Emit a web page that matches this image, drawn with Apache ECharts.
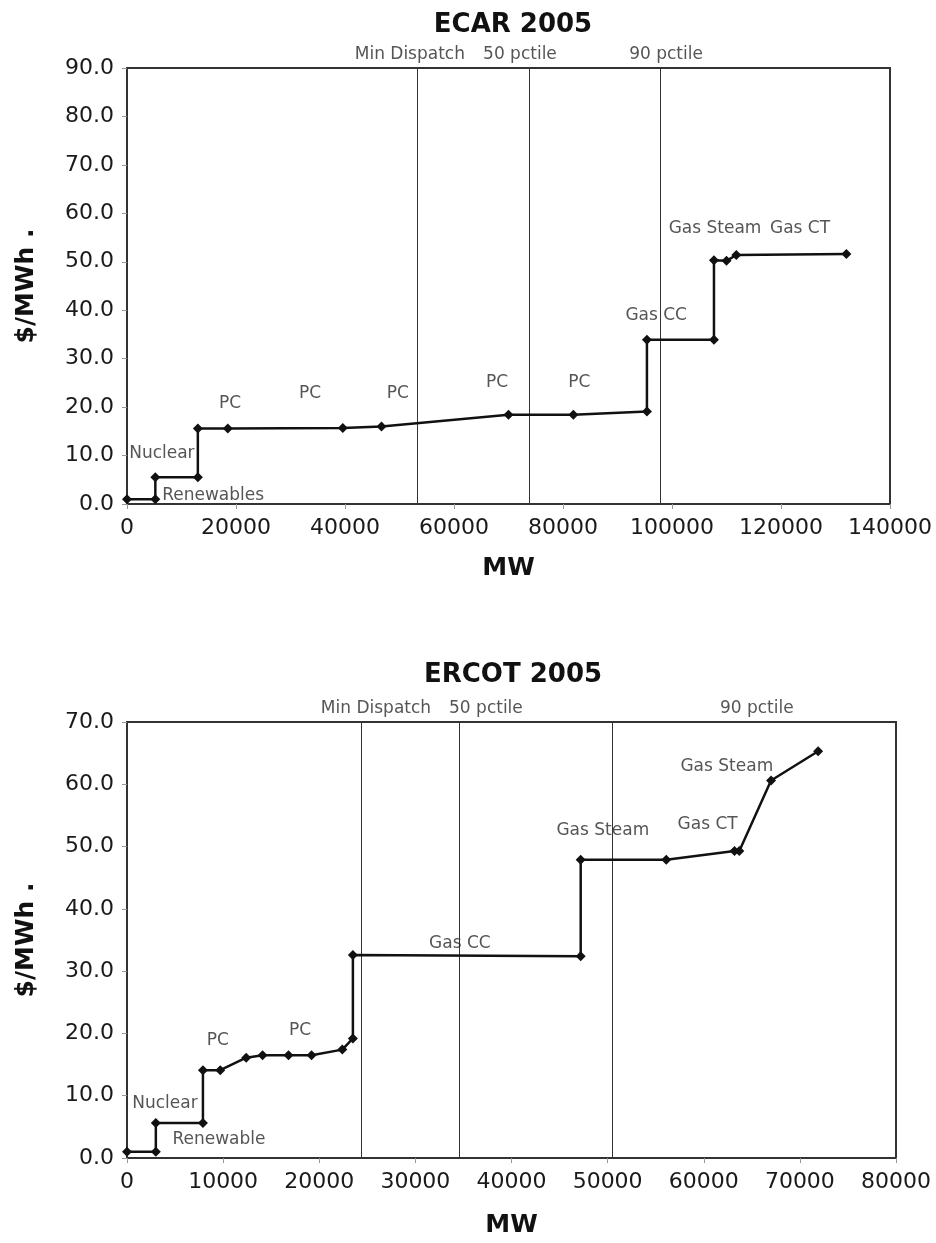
<!DOCTYPE html>
<html>
<head>
<meta charset="utf-8">
<script src="https://cdn.jsdelivr.net/npm/echarts@6/dist/echarts.min.js"></script>
<style>
  html, body { margin: 0; padding: 0; background: #fff; }
  #chart { width: 936px; height: 1243px; }
</style>
</head>
<body>
<div id="chart"></div>
<script>
// ---------- ECAR 2005 ----------
const ecarMW    = [0, 5200, 5200, 13000, 13000, 18500, 39600, 46700, 70000, 81900, 95400, 95400, 107700, 107700, 110000, 111800, 132000];
const ecarPrice = [1.0, 1.0, 5.5, 5.5, 15.6, 15.6, 15.7, 16.0, 18.4, 18.4, 19.1, 33.9, 33.9, 50.3, 50.2, 51.4, 51.6];
const ecarRefMW = [53200, 73800, 97900];
const ecarNoteText = ['Nuclear', 'Renewables', 'PC', 'PC', 'PC', 'PC', 'PC', 'Gas CC', 'Gas Steam', 'Gas CT'];
const ecarNoteMW   = [6400, 15800, 18900, 33600, 49700, 67900, 83000, 97100, 107900, 123500];
const ecarNoteY    = [10.5, 1.65, 20.7, 22.7, 22.7, 25.0, 25.0, 38.8, 56.8, 56.8];
const ecarRefLabelMW = [51900, 72100, 98900];
const ecarRefLabelY  = 92.8;

// ---------- ERCOT 2005 ----------
const ercotMW    = [0, 3000, 3000, 7900, 7900, 9700, 12400, 14100, 16800, 19200, 22400, 23500, 23500, 47200, 47200, 56100, 63200, 63700, 67000, 71900];
const ercotPrice = [1.0, 1.0, 5.6, 5.6, 14.1, 14.1, 16.1, 16.5, 16.5, 16.5, 17.4, 19.2, 32.6, 32.4, 47.9, 47.9, 49.3, 49.3, 60.6, 65.3];
const ercotRefMW = [24400, 34600, 50500];
const ercotNoteText = ['Nuclear', 'Renewable', 'PC', 'PC', 'Gas CC', 'Gas Steam', 'Gas CT', 'Gas Steam'];
const ercotNoteMW   = [3950, 9570, 9460, 18000, 34630, 49500, 60400, 62400];
const ercotNoteY    = [8.7, 2.9, 18.9, 20.5, 34.5, 52.5, 53.6, 62.9];
const ercotRefLabelMW = [25900, 37340, 65520];
const ercotRefLabelY  = 72.2;

const refNames = ['Min Dispatch', '50 pctile', '90 pctile'];

const chart = echarts.init(document.getElementById('chart'), null, { renderer: 'canvas' });

const FONT = 'DejaVu Sans';
const tickLabel = { fontFamily: FONT, fontSize: 22, color: '#1a1a1a' };
const axisNameStyle = { fontFamily: FONT, fontSize: 25, fontWeight: 'bold', color: '#111' };

function xAxisCfg(gridIndex, max, interval, nameGap) {
  return {
    type: 'value', gridIndex, min: 0, max, interval,
    name: 'MW', nameLocation: 'middle', nameGap, nameTextStyle: axisNameStyle,
    axisLine: { show: true, onZero: false, lineStyle: { color: '#333', width: 2 } },
    axisTick: { show: true, length: 5, lineStyle: { color: '#999', width: 1 } },
    axisLabel: Object.assign({ margin: 13, formatter: v => String(v) }, tickLabel),
    splitLine: { show: false }
  };
}
function yAxisCfg(gridIndex, max) {
  return {
    type: 'value', gridIndex, min: 0, max, interval: 10,
    name: '$/MWh .', nameLocation: 'middle', nameGap: 88, nameRotate: 90, nameTextStyle: axisNameStyle,
    axisLine: { show: true, lineStyle: { color: '#333', width: 2 } },
    axisTick: { show: true, length: 5, lineStyle: { color: '#999', width: 1 } },
    axisLabel: Object.assign({ margin: 13, formatter: v => v.toFixed(1) }, tickLabel),
    splitLine: { show: false }
  };
}
function stepSeries(idx, xs, ys, refs) {
  return {
    type: 'line', xAxisIndex: idx, yAxisIndex: idx,
    data: xs.map((x, i) => [x, ys[i]]),
    symbol: 'diamond', symbolSize: 10, showSymbol: true,
    lineStyle: { color: '#111', width: 2.5 },
    itemStyle: { color: '#111' },
    silent: true, animation: false, z: 5,
    markLine: {
      silent: true, symbol: 'none', animation: false,
      label: { show: false },
      lineStyle: { color: '#333', width: 1, type: 'solid' },
      data: refs.map(v => ({ xAxis: v }))
    }
  };
}
function noteSeries(idx, texts, xs, ys) {
  return {
    type: 'scatter', xAxisIndex: idx, yAxisIndex: idx,
    data: texts.map((t, i) => ({ name: t, value: [xs[i], ys[i]] })),
    symbolSize: 0, clip: false, silent: true, animation: false, z: 6,
    label: {
      show: true, position: 'inside', formatter: p => p.name,
      fontFamily: FONT, fontSize: 17, color: '#2a2a2a'
    }
  };
}

const option = {
  animation: false,
  backgroundColor: '#fff',
  title: [
    { text: 'ECAR 2005', left: 508, top: 7, textAlign: 'center',
      textStyle: { fontFamily: FONT, fontSize: 26, fontWeight: 'bold', color: '#111' } },
    { text: 'ERCOT 2005', left: 508, top: 657, textAlign: 'center',
      textStyle: { fontFamily: FONT, fontSize: 26, fontWeight: 'bold', color: '#111' } }
  ],
  grid: [
    { left: 127, top: 68, width: 763, height: 436, show: true, borderColor: '#333', borderWidth: 2, backgroundColor: 'transparent' },
    { left: 127, top: 722, width: 769, height: 436, show: true, borderColor: '#333', borderWidth: 2, backgroundColor: 'transparent' }
  ],
  xAxis: [xAxisCfg(0, 140000, 20000, 52), xAxisCfg(1, 80000, 10000, 55)],
  yAxis: [yAxisCfg(0, 90), yAxisCfg(1, 70)],
  series: [
    stepSeries(0, ecarMW, ecarPrice, ecarRefMW),
    noteSeries(0, ecarNoteText, ecarNoteMW, ecarNoteY),
    noteSeries(0, refNames, ecarRefLabelMW, ecarRefLabelMW.map(() => ecarRefLabelY)),
    stepSeries(1, ercotMW, ercotPrice, ercotRefMW),
    noteSeries(1, ercotNoteText, ercotNoteMW, ercotNoteY),
    noteSeries(1, refNames, ercotRefLabelMW, ercotRefLabelMW.map(() => ercotRefLabelY))
  ]
};
chart.setOption(option);
</script>
</body>
</html>
